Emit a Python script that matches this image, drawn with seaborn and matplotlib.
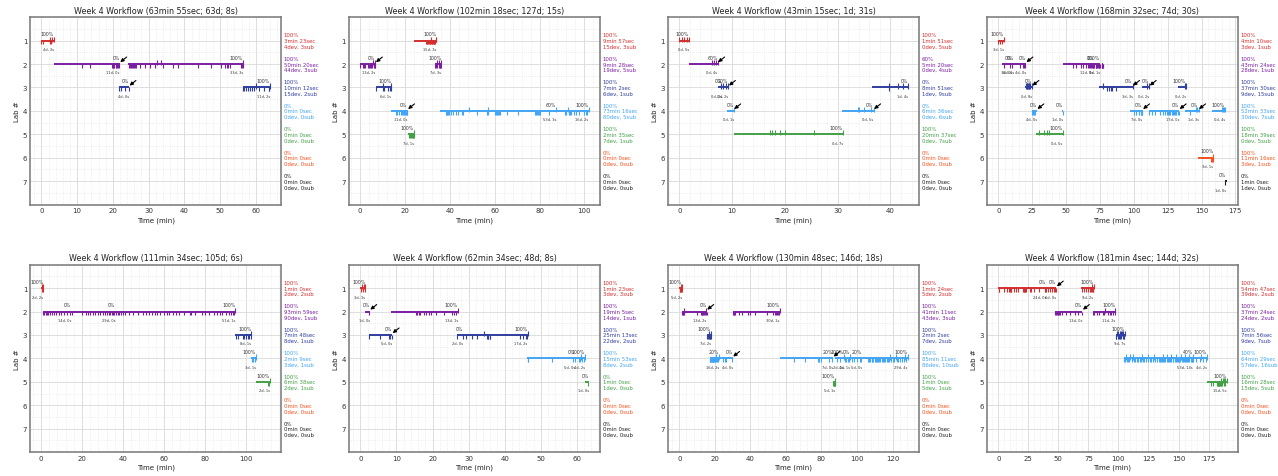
import matplotlib
matplotlib.use("Agg")
import matplotlib.pyplot as plt
import matplotlib.transforms as mtransforms
from matplotlib.ticker import AutoMinorLocator, MultipleLocator
import seaborn as sns

LABS = [1, 2, 3, 4, 5, 6, 7]
LAB_COLORS = ["#d32f2f", "#7b1fa2", "#303f9f", "#42a5f5", "#43a047", "#f4511e", "#212121"]
EMPTY = ("0%", "0min 0sec", "0dev, 0sub")

# ---------------- panel 1 ----------------
P1_TITLE = "Week 4 Workflow (63min 55sec; 63d; 8s)"
P1_SEGMENTS = [
    (1, 0.0, 3.38, "100%", "4d, 3s", False),
    (2, 3.4, 21.9, "0%", "11d, 0s", True),
    (2, 24.3, 56.4, "100%", "33d, 3s", False),
    (3, 21.7, 24.5, "0%", "4d, 0s", True),
    (3, 56.3, 63.9, "100%", "11d, 2s", False),
]
P1_DEVS = {
    1: [0.0, 0.5, 2.3, 2.6],
    2: [11.4, 13.5, 19.8, 20.0, 20.1, 20.4, 20.8, 21.0, 21.2, 21.5, 21.8,
        24.4, 24.8, 25.1, 25.4, 25.7, 26.0, 26.3, 26.6, 27.6, 28.9, 30.3, 31.7, 33.9,
        36.7, 38.1, 43.7, 47.4, 50.3, 51.4, 51.8, 52.3, 52.8, 55.9, 56.1, 56.3],
    3: [21.8, 22.3, 23.5, 24.4, 56.4, 56.8, 57.3, 57.8, 58.3, 58.9, 59.5, 61.0, 62.3, 63.6, 63.8],
}
P1_SUBS = {1: [2.5, 3.0, 3.38], 2: [32.3, 33.4, 56.4], 3: [60.0, 63.9]}
P1_SUMMARY = [("100%", "3min 23sec", "4dev, 3sub"), ("100%", "50min 20sec", "44dev, 3sub"),
              ("100%", "10min 12sec", "15dev, 2sub"), EMPTY, EMPTY, EMPTY, EMPTY]

# ---------------- panel 2 ----------------
P2_TITLE = "Week 4 Workflow (102min 18sec; 127d; 15s)"
P2_SEGMENTS = [
    (1, 24.0, 34.0, "100%", "15d, 3s", False),
    (2, 0.2, 6.9, "0%", "13d, 2s", True),
    (2, 33.5, 36.3, "100%", "7d, 3s", False),
    (3, 7.0, 14.0, "100%", "6d, 1s", False),
    (4, 13.8, 21.2, "0%", "11d, 0s", True),
    (4, 35.8, 87.4, "60%", "53d, 3s", False),
    (4, 87.4, 101.9, "100%", "16d, 2s", False),
    (5, 21.5, 24.1, "100%", "7d, 1s", False),
]
P2_DEVS = {
    1: [29.5, 29.8, 30.0, 30.3, 30.8, 31.0, 31.2, 31.6, 32.0, 32.2, 32.4, 32.8, 33.0, 33.2, 33.6],
    2: [0.2, 1.2, 1.8, 2.2, 3.8, 4.2, 4.5, 5.0, 5.5, 6.2, 6.5, 6.8,
        33.6, 34.0, 34.5, 35.0, 35.5, 35.8, 36.1],
    3: [7.1, 10.2, 10.6, 12.3, 13.2, 13.8],
    4: [16.2, 16.6, 17.5, 18.3, 18.7, 19.2, 19.6, 20.0, 20.4, 20.8, 21.1,
        38.2, 38.6, 39.0, 39.4, 39.8, 40.6, 41.5, 42.6, 43.8, 45.3, 46.1, 52.3, 56.8, 57.2,
        60.3, 60.7, 61.1, 61.5, 61.9, 62.3, 65.5, 70.5, 78.2, 78.6, 79.0, 79.4, 79.8, 80.2, 84.0,
        91.5, 92.0, 93.0, 93.4, 94.2, 95.5, 96.3, 97.5, 99.8, 100.5, 101.0],
    5: [22.0, 22.5, 22.8, 23.0, 23.5, 23.8, 24.0],
}
P2_SUBS = {1: [31.5, 33.8, 34.0], 2: [6.0, 6.9, 34.2, 35.2, 36.3], 3: [10.4, 14.0],
           4: [48.8, 57.0, 87.4, 92.5, 101.9], 5: [24.1]}
P2_SUMMARY = [("100%", "9min 57sec", "15dev, 3sub"), ("100%", "9min 28sec", "19dev, 5sub"),
              ("100%", "7min 2sec", "6dev, 1sub"), ("100%", "73min 16sec", "80dev, 5sub"),
              ("100%", "2min 35sec", "7dev, 1sub"), EMPTY, EMPTY]

# ---------------- panel 3 ----------------
P3_TITLE = "Week 4 Workflow (43min 15sec; 1d; 31s)"
P3_SEGMENTS = [
    (1, 0.0, 1.85, "100%", "0d, 5s", False),
    (2, 1.9, 7.25, "60%", "0d, 4s", True),
    (3, 7.25, 8.2, "0%", "0d, 2s", False),
    (3, 8.2, 9.3, "20%", "0d, 2s", True),
    (3, 36.5, 43.25, "0%", "1d, 4s", False),
    (4, 9.1, 10.3, "0%", "0d, 1s", True),
    (4, 30.9, 36.8, "0%", "0d, 5s", True),
    (5, 10.4, 31.0, "100%", "0d, 7s", False),
]
P3_DEVS = {3: [39.7]}
P3_SUBS = {1: [0.0, 0.45, 0.95, 1.4, 1.85], 2: [6.2, 6.6, 7.0, 7.25],
           3: [7.9, 8.2, 8.9, 9.3, 39.7, 41.4, 42.4, 43.25],
           4: [10.3, 33.8, 34.1, 34.9, 36.3, 36.8],
           5: [17.1, 17.5, 18.1, 19.0, 20.0, 25.6, 31.0]}
P3_SUMMARY = [("100%", "1min 51sec", "0dev, 5sub"), ("60%", "5min 20sec", "0dev, 4sub"),
              ("0%", "8min 51sec", "1dev, 9sub"), ("0%", "6min 36sec", "0dev, 6sub"),
              ("100%", "20min 37sec", "0dev, 7sub"), EMPTY, EMPTY]

# ---------------- panel 4 ----------------
P4_TITLE = "Week 4 Workflow (168min 32sec; 74d; 30s)"
P4_SEGMENTS = [
    (1, 0.0, 4.17, "100%", "3d, 1s", False),
    (2, 3.0, 10.3, "0%", "3d, 0s", False),
    (2, 10.3, 11.9, "0%", "0d, 0s", False),
    (2, 11.9, 20.4, "0%", "4d, 0s", True),
    (2, 47.5, 70.5, "0%", "12d, 0s", False),
    (2, 70.5, 75.0, "100%", "9d, 1s", False),
    (2, 76.3, 77.3, "", "", False),
    (3, 19.7, 24.8, "0%", "0d, 8s", True),
    (3, 74.0, 99.1, "0%", "3d, 3s", True),
    (3, 106.0, 111.4, "0%", "0d, 2s", True),
    (3, 132.3, 138.4, "100%", "0d, 2s", False),
    (4, 24.6, 28.5, "0%", "4d, 0s", True),
    (4, 47.0, 47.5, "0%", "1d, 0s", False),
    (4, 97.4, 106.5, "0%", "7d, 0s", True),
    (4, 110.9, 133.5, "0%", "17d, 0s", True),
    (4, 138.0, 147.8, "0%", "1d, 3s", True),
    (4, 158.1, 167.2, "100%", "0d, 4s", False),
    (5, 27.8, 47.5, "100%", "0d, 5s", False),
    (6, 147.5, 158.8, "100%", "3d, 1s", False),
    (7, 167.2, 168.5, "0%", "1d, 0s", False),
]
P4_DEVS = {
    1: [0.1, 1.0, 2.5],
    2: [4.5, 9.0, 10.2, 16.0, 18.5, 19.2, 20.0,
        55.0, 57.0, 61.0, 62.5, 64.5, 66.0, 67.0, 67.8, 68.5, 69.2, 69.8, 70.2,
        71.0, 71.8, 72.0, 72.4, 73.0, 73.5, 74.0, 74.4, 74.8, 76.4, 76.6, 76.8, 77.0, 77.2],
    3: [80.3, 81.5, 83.0, 84.2, 86.8],
    4: [25.0, 25.8, 26.6, 27.4, 47.4, 100.5, 102.0, 104.0, 105.0, 105.6, 106.0, 106.4,
        111.5, 113.5, 116.0, 119.0, 121.5, 123.0, 124.5, 125.0, 126.0, 127.0, 128.0, 129.0,
        129.5, 130.5, 131.5, 132.5, 133.3, 141.5],
    6: [157.0, 157.6, 158.2],
    7: [167.6],
}
P4_SUBS = {1: [4.1], 3: [20.5, 21.0, 21.5, 22.0, 22.5, 23.0, 23.5, 24.8, 77.0, 99.1,
                         109.5, 111.4, 137.5, 138.4],
           4: [146.0, 146.8, 147.8, 164.8, 165.5, 166.4, 167.2],
           5: [30.2, 33.9, 35.7, 37.6, 47.5], 6: [158.8]}
P4_SUMMARY = [("100%", "4min 10sec", "3dev, 1sub"), ("100%", "43min 24sec", "28dev, 1sub"),
              ("100%", "37min 30sec", "9dev, 15sub"), ("100%", "52min 33sec", "30dev, 7sub"),
              ("100%", "18min 39sec", "0dev, 5sub"), ("100%", "11min 16sec", "3dev, 1sub"),
              ("0%", "1min 0sec", "1dev, 0sub")]

# ---------------- panel 5 ----------------
P5_TITLE = "Week 4 Workflow (111min 34sec; 105d; 6s)"
P5_SEGMENTS = [
    (1, 0.2, 1.2, "100%", "2d, 2s", False),
    (2, 0.8, 14.8, "0%", "14d, 0s", False),
    (2, 14.8, 36.3, "0%", "29d, 0s", False),
    (2, 36.3, 94.8, "100%", "51d, 1s", False),
    (3, 94.8, 102.6, "100%", "8d, 1s", False),
    (4, 102.6, 104.75, "100%", "3d, 1s", False),
    (5, 104.9, 111.57, "100%", "2d, 1s", False),
]
P5_DEVS = {
    1: [0.3, 0.9],
    2: [1.0, 1.5, 2.2, 2.8, 3.5, 4.2, 5.3, 6.5, 7.5, 8.6, 9.8, 11.0, 12.5, 14.0,
        15.3, 19.8, 22.0, 23.0, 24.0, 25.2, 26.5, 27.8, 28.8, 30.0, 31.0, 32.2, 33.0, 33.8,
        34.5, 35.2, 35.8, 36.8, 37.5, 38.2, 39.0, 39.8, 41.2, 43.0, 45.0, 47.2, 49.5, 51.0,
        52.5, 54.0, 55.5, 56.8, 58.2, 60.0, 61.5, 62.3, 64.5, 66.0, 67.5, 69.5, 72.5, 73.2,
        75.0, 78.5, 80.0, 82.0, 84.5, 86.0, 87.5, 88.5, 90.0, 91.5, 92.5, 93.5, 94.2],
    3: [95.2, 96.0, 98.6, 99.0, 100.2, 101.0, 101.5, 102.2],
    4: [103.0, 103.6, 104.2],
    5: [110.6, 111.0],
}
P5_SUBS = {1: [0.6, 1.2], 2: [94.8], 3: [102.6], 4: [104.75], 5: [111.57]}
P5_SUMMARY = [("100%", "1min 0sec", "2dev, 2sub"), ("100%", "93min 59sec", "90dev, 1sub"),
              ("100%", "7min 48sec", "8dev, 1sub"), ("100%", "2min 9sec", "3dev, 1sub"),
              ("100%", "6min 38sec", "2dev, 1sub"), EMPTY, EMPTY]

# ---------------- panel 6 ----------------
P6_TITLE = "Week 4 Workflow (62min 34sec; 48d; 8s)"
P6_SEGMENTS = [
    (1, 0.0, 1.38, "100%", "3d, 3s", False),
    (2, 1.4, 2.6, "0%", "1d, 0s", True),
    (2, 8.5, 27.0, "100%", "13d, 1s", False),
    (3, 2.3, 8.8, "0%", "5d, 0s", True),
    (3, 26.8, 28.6, "0%", "2d, 0s", False),
    (3, 28.6, 46.4, "100%", "17d, 2s", False),
    (4, 46.2, 59.6, "0%", "5d, 0s", False),
    (4, 59.6, 62.3, "100%", "4d, 2s", False),
    (5, 62.3, 63.3, "0%", "1d, 0s", False),
]
P6_DEVS = {
    1: [0.05, 0.7, 1.3],
    2: [2.5, 15.4, 15.8, 16.2, 16.6, 17.6, 18.3, 19.0, 19.7, 21.0, 23.1, 25.4, 26.0, 26.6],
    3: [2.4, 5.5, 7.8, 8.2, 8.7, 26.85, 28.5, 29.4, 30.9, 32.3, 35.1, 35.3, 35.5, 35.8, 36.0,
        44.2, 45.0, 45.8, 46.2],
    4: [46.4, 46.6, 53.0, 59.0, 59.5, 60.5, 61.0, 61.5, 62.0],
    5: [63.2],
}
P6_SUBS = {1: [0.4, 1.0, 1.38], 2: [27.0], 3: [34.4, 46.4], 4: [61.2, 62.3]}
P6_SUMMARY = [("100%", "1min 23sec", "3dev, 3sub"), ("100%", "19min 5sec", "14dev, 1sub"),
              ("100%", "25min 13sec", "22dev, 2sub"), ("100%", "15min 53sec", "8dev, 2sub"),
              ("0%", "1min 0sec", "1dev, 0sub"), EMPTY, EMPTY]

# ---------------- panel 7 ----------------
P7_TITLE = "Week 4 Workflow (130min 48sec; 146d; 18s)"
P7_SEGMENTS = [
    (1, 0.0, 1.4, "100%", "5d, 2s", False),
    (2, 1.3, 15.4, "0%", "13d, 2s", True),
    (2, 30.1, 56.5, "100%", "30d, 1s", False),
    (3, 15.6, 17.7, "100%", "7d, 2s", False),
    (4, 17.0, 22.5, "20%", "16d, 2s", False),
    (4, 22.5, 30.0, "0%", "4d, 0s", True),
    (4, 56.5, 86.5, "20%", "7d, 0s", True),
    (4, 87.6, 92.5, "100%", "2d, 1s", False),
    (4, 92.5, 96.0, "0%", "4d, 1s", False),
    (4, 96.0, 103.0, "20%", "5d, 0s", False),
    (4, 103.0, 128.5, "100%", "29d, 4s", False),
    (5, 86.6, 87.6, "100%", "5d, 1s", False),
]
P7_DEVS = {
    1: [0.1, 0.4, 0.9, 1.2, 1.35],
    2: [1.4, 1.8, 2.3, 2.8, 9.8, 12.0, 12.5, 13.0, 13.5, 14.0, 14.5, 15.0, 15.3,
        30.3, 30.6, 31.0, 31.5, 33.5, 35.5, 38.5, 39.8, 42.6, 49.2, 53.0, 53.6, 54.3, 55.0,
        55.7, 56.2],
    3: [15.8, 16.2, 16.6, 17.0, 17.3, 17.5, 17.7],
    4: [17.2, 17.4, 17.6, 18.0, 18.2, 18.4, 18.8, 19.0, 19.2, 19.6, 19.8, 20.0, 20.3, 20.6,
        21.2, 22.0, 24.5, 25.5, 26.5, 29.5, 64.8, 70.5, 77.8, 78.5, 80.0, 84.0, 86.0,
        88.5, 90.5, 93.3, 94.0, 94.8, 95.5, 97.0, 98.5, 100.0, 101.5, 102.5,
        106.0, 107.0, 107.5, 108.2, 108.6, 109.0, 110.0, 110.5, 110.8, 111.2, 112.0, 112.5,
        113.0, 114.0, 114.5, 115.0, 116.0, 116.8, 117.5, 118.2, 119.0, 120.0, 121.0, 122.5,
        123.0, 124.0, 125.5, 126.5, 127.5],
    5: [86.7, 87.0, 87.2, 87.4, 87.5],
}
P7_SUBS = {1: [1.0, 1.4], 2: [2.6, 15.0, 56.5], 3: [16.8, 17.7],
           4: [20.7, 22.5, 92.5, 96.0, 118.5, 122.0, 127.0, 128.5], 5: [87.6]}
P7_SUMMARY = [("100%", "1min 24sec", "5dev, 2sub"), ("100%", "41min 11sec", "43dev, 3sub"),
              ("100%", "2min 2sec", "7dev, 2sub"), ("100%", "85min 11sec", "86dev, 10sub"),
              ("100%", "1min 0sec", "5dev, 1sub"), EMPTY, EMPTY]

# ---------------- panel 8 ----------------
P8_TITLE = "Week 4 Workflow (181min 4sec; 144d; 32s)"
P8_SEGMENTS = [
    (1, 0.0, 40.0, "0%", "24d, 0s", False),
    (1, 40.0, 48.3, "0%", "6d, 0s", True),
    (1, 69.2, 79.3, "100%", "9d, 2s", False),
    (2, 47.4, 70.0, "0%", "13d, 0s", True),
    (2, 78.5, 97.4, "100%", "11d, 2s", False),
    (3, 97.6, 105.5, "100%", "9d, 7s", False),
    (4, 104.5, 162.0, "40%", "53d, 14s", False),
    (4, 162.0, 173.5, "100%", "4d, 2s", False),
    (5, 173.5, 190.0, "100%", "15d, 5s", False),
]
P8_DEVS = {
    1: [0.3, 1.0, 5.0, 7.5, 9.0, 9.5, 10.2, 11.0, 13.0, 14.5, 16.0, 20.5, 21.0, 21.5, 22.0,
        22.5, 23.0, 26.0, 27.5, 30.0, 34.0, 38.5, 39.0, 39.5,
        41.5, 43.0, 44.5, 46.0, 47.5, 48.2,
        69.5, 71.0, 73.0, 75.0, 76.5, 77.5, 78.0, 78.5, 79.0],
    2: [47.6, 48.2, 48.8, 49.4, 50.0, 50.6, 51.2, 53.0, 56.5, 60.0, 64.0, 66.5, 69.8,
        78.7, 80.0, 82.5, 83.5, 87.5, 88.0, 91.0, 93.0, 94.0, 95.5, 97.0],
    3: [97.8, 98.3, 99.5, 100.5, 101.0, 102.5, 103.5, 104.5, 105.0],
    4: [104.7, 105.4, 106.8, 108.0, 109.2, 111.0, 112.6, 113.4, 115.2, 116.5, 117.8, 119.0,
        120.6, 121.4, 122.8, 124.2, 126.0, 127.3, 128.5, 130.8, 132.2, 133.6, 134.8, 135.5,
        136.4, 137.2, 138.3, 139.1, 140.0, 141.2, 142.0, 142.9, 144.1, 145.0, 145.8, 146.7,
        147.5, 148.6, 149.4, 150.3, 151.5, 152.6, 153.4, 154.5, 155.2, 156.4, 157.3, 158.2,
        159.0, 160.1, 160.9, 161.6, 162.0, 164.5, 167.5, 170.5, 173.0],
    5: [177.0, 179.0, 182.0, 182.5, 182.8, 183.0, 183.5, 183.7, 184.0, 184.5, 185.0, 185.5,
        186.5, 188.0, 189.0],
}
P8_SUBS = {1: [78.0, 79.3], 2: [88.5, 97.4],
           3: [99.0, 100.0, 101.5, 102.0, 103.0, 104.0, 105.5],
           4: [106.5, 109.5, 112.0, 119.5, 125.0, 130.0, 137.5, 140.5, 143.5, 148.0, 152.0,
               155.5, 158.5, 162.0, 169.0, 173.5],
           5: [185.3, 187.0, 188.2, 189.0, 190.0]}
P8_SUMMARY = [("100%", "54min 47sec", "39dev, 2sub"), ("100%", "37min 24sec", "24dev, 2sub"),
              ("100%", "7min 56sec", "9dev, 7sub"), ("100%", "64min 29sec", "57dev, 16sub"),
              ("100%", "16min 28sec", "15dev, 5sub"), EMPTY, EMPTY]

X_STEPS = [10, 20, 10, 25, 20, 10, 20, 25]

PANELS = [
    (P1_TITLE, P1_SEGMENTS, P1_DEVS, P1_SUBS, P1_SUMMARY),
    (P2_TITLE, P2_SEGMENTS, P2_DEVS, P2_SUBS, P2_SUMMARY),
    (P3_TITLE, P3_SEGMENTS, P3_DEVS, P3_SUBS, P3_SUMMARY),
    (P4_TITLE, P4_SEGMENTS, P4_DEVS, P4_SUBS, P4_SUMMARY),
    (P5_TITLE, P5_SEGMENTS, P5_DEVS, P5_SUBS, P5_SUMMARY),
    (P6_TITLE, P6_SEGMENTS, P6_DEVS, P6_SUBS, P6_SUMMARY),
    (P7_TITLE, P7_SEGMENTS, P7_DEVS, P7_SUBS, P7_SUMMARY),
    (P8_TITLE, P8_SEGMENTS, P8_DEVS, P8_SUBS, P8_SUMMARY),
]


def draw_panel(ax, title, segments, devs, subs, summary, xstep):
    for lab, start, end, pct, counts, arrow in segments:
        color = LAB_COLORS[lab - 1]
        ax.hlines(lab, start, end, color=color, lw=1.4, zorder=3)
        if pct:
            ax.text(end, lab - 0.29, pct, fontsize=3.3, color="#333333",
                    ha="right", va="center", zorder=4)
        if counts:
            ax.text(end, lab + 0.36, counts, fontsize=2.6, color="#333333",
                    ha="right", va="center", zorder=4)
        if arrow:
            # small black arrow pointing back at where the student left the lab
            ax.annotate("", xy=(end, lab - 0.06), xycoords="data",
                        xytext=(5, 4), textcoords="offset points",
                        arrowprops=dict(arrowstyle="-|>", color="black", lw=0.8,
                                        mutation_scale=5, shrinkA=0, shrinkB=0.5),
                        zorder=5)

    for lab, times in devs.items():
        ax.vlines(times, lab, lab + 0.16, color=LAB_COLORS[lab - 1], lw=0.8, zorder=3)
    for lab, times in subs.items():
        ax.vlines(times, lab - 0.17, lab + 0.05, color=LAB_COLORS[lab - 1], lw=0.8, zorder=3)

    trans = mtransforms.blended_transform_factory(ax.transAxes, ax.transData)
    for lab, (pct, dur, cnt) in zip(LABS, summary):
        ax.text(1.01, lab, f"{pct}\n{dur}\n{cnt}", transform=trans, fontsize=3.9,
                color=LAB_COLORS[lab - 1], ha="left", va="center", linespacing=1.15)

    ax.margins(x=0.05)
    ax.set_ylim(8, 0)
    ax.set_yticks(LABS)
    ax.xaxis.set_major_locator(MultipleLocator(xstep))
    ax.xaxis.set_minor_locator(AutoMinorLocator(5))
    ax.yaxis.set_minor_locator(AutoMinorLocator(2))
    ax.grid(which="major", color="#d9d9d9", lw=0.6)
    ax.grid(which="minor", color="#e3e3e3", lw=0.5, ls=":")
    ax.tick_params(axis="both", which="both", length=0, labelsize=5, pad=2,
                   labelcolor="#333333")
    ax.set_title(title, fontsize=5.8, color="#222222", pad=3)
    ax.set_xlabel("Time (min)", fontsize=5, color="#222222", labelpad=2)
    ax.set_ylabel("Lab #", fontsize=5, color="#222222", labelpad=2)
    for spine in ax.spines.values():
        spine.set_color("#777777")
        spine.set_linewidth(1.1)


sns.set_theme(style="whitegrid")
plt.rcParams["font.family"] = ["DejaVu Sans"]

fig, axes = plt.subplots(2, 4, figsize=(12.78, 4.77), dpi=100)
fig.subplots_adjust(left=0.0235, right=0.9687, top=0.962, bottom=0.05, wspace=0.27, hspace=0.32)

for ax, (title, segs, devs, subs, summary), step in zip(axes.flat, PANELS, X_STEPS):
    draw_panel(ax, title, segs, devs, subs, summary, step)

fig.savefig("out.png", dpi=100, facecolor="white")
